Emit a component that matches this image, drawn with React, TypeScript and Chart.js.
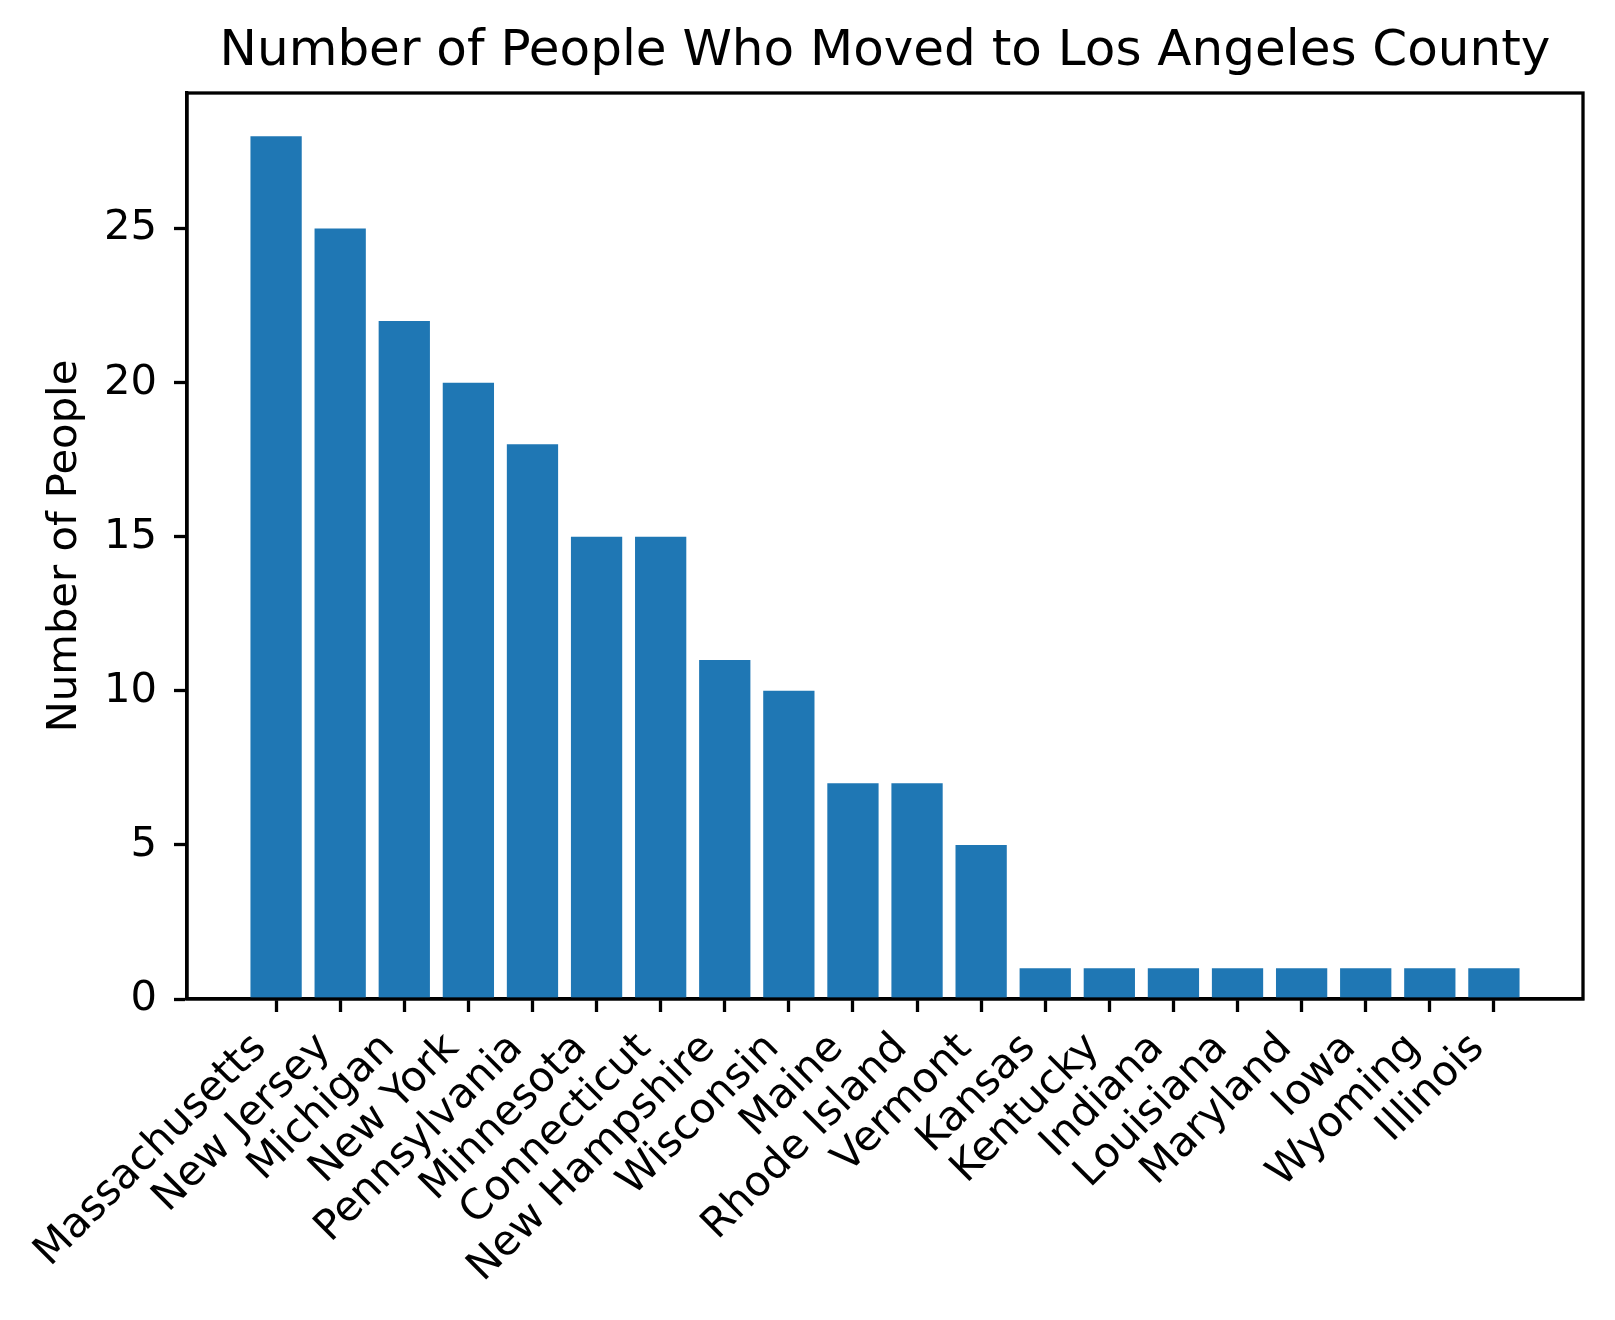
import React, { useEffect, useRef } from "react";
import { Chart, registerables } from "chart.js";

Chart.register(...registerables);

const states = [
  "Massachusetts", "New Jersey", "Michigan", "New York", "Pennsylvania",
  "Minnesota", "Connecticut", "New Hampshire", "Wisconsin", "Maine",
  "Rhode Island", "Vermont", "Kansas", "Kentucky", "Indiana",
  "Louisiana", "Maryland", "Iowa", "Wyoming", "Illinois",
];
const people = [28, 25, 22, 20, 18, 15, 15, 11, 10, 7, 7, 5, 1, 1, 1, 1, 1, 1, 1, 1];
const yTicks = [0, 5, 10, 15, 20, 25];

const titleText = "Number of People Who Moved to Los Angeles County";
const yTitleText = "Number of People";

const FONT = "'DejaVu Sans', sans-serif";
const W = 1615;
const H = 1320;

export default function App() {
  const ref = useRef<HTMLCanvasElement | null>(null);

  useEffect(() => {
    const canvas = ref.current;
    if (!canvas) return;
    const n = people.length;
    const span = (n - 1) + 0.8;
    const xMin = -0.4 - span * 0.05;
    const xMax = n - 1 + 0.4 + span * 0.05;
    const yMax = Math.max(...people) * 1.05;

    const framePlugin = {
      id: "frame",
      afterDraw(chart: any) {
        const { ctx, chartArea } = chart;
        ctx.save();
        ctx.strokeStyle = "#000";
        ctx.lineWidth = 3.3;
        ctx.strokeRect(chartArea.left, chartArea.top, chartArea.right - chartArea.left, chartArea.bottom - chartArea.top);
        ctx.restore();
      },
    };

    const chart = new Chart(canvas, {
      type: "bar",
      data: {
        datasets: [
          {
            data: people.map((v, i) => ({ x: i, y: v })),
            backgroundColor: "#1f77b4",
            borderWidth: 0,
            barPercentage: 0.8,
            categoryPercentage: 1.0,
          },
        ],
      },
      options: {
        responsive: false,
        animation: false,
        devicePixelRatio: 1,
        layout: { padding: { left: 0, right: 32, top: 0, bottom: 0 } },
        plugins: {
          legend: { display: false },
          tooltip: { enabled: false },
          title: {
            display: true,
            text: titleText,
            fullSize: false,
            color: "#000",
            font: { family: FONT, size: 50, weight: "normal", lineHeight: 1.2 },
            padding: { top: 22, bottom: 11 },
          },
        },
        scales: {
          x: {
            type: "linear",
            offset: false,
            min: xMin,
            max: xMax,
            afterBuildTicks: (scale: any) => {
              scale.ticks = states.map((_, i) => ({ value: i }));
            },
            afterFit: (scale: any) => {
              scale.height = H - 999;
            },
            grid: {
              offset: false,
              drawOnChartArea: false,
              drawTicks: true,
              tickLength: 13,
              tickWidth: 3.3,
              tickColor: "#000",
            },
            border: { display: true, color: "#000", width: 3.3 },
            ticks: {
              autoSkip: false,
              maxRotation: 45,
              minRotation: 45,
              padding: 12,
              labelOffset: -16,
              color: "#000",
              font: { family: FONT, size: 41.7, lineHeight: 1.2 },
              callback: (value: any) => states[value as number] ?? "",
            },
          },
          y: {
            type: "linear",
            min: 0,
            max: yMax,
            afterBuildTicks: (scale: any) => {
              scale.ticks = yTicks.map((v) => ({ value: v }));
            },
            afterFit: (scale: any) => {
              scale.width = 187;
            },
            grid: {
              drawOnChartArea: false,
              drawTicks: true,
              tickLength: 13,
              tickWidth: 3.3,
              tickColor: "#000",
            },
            border: { display: true, color: "#000", width: 3.3 },
            ticks: {
              padding: 17,
              color: "#000",
              font: { family: FONT, size: 41.7, lineHeight: 1.2 },
              callback: (value: any) => String(value),
            },
            title: {
              display: true,
              text: yTitleText,
              color: "#000",
              font: { family: FONT, size: 41.7, lineHeight: 1.2 },
              padding: { top: 40, bottom: 0 },
            },
          },
        },
      },
      plugins: [framePlugin],
    } as any);

    return () => chart.destroy();
  }, []);

  return (
    <div style={{ position: "fixed", left: 0, top: 0, width: W, height: H, background: "#fff" }}>
      <canvas ref={ref} width={W} height={H} style={{ width: W, height: H, display: "block" }} />
    </div>
  );
}
